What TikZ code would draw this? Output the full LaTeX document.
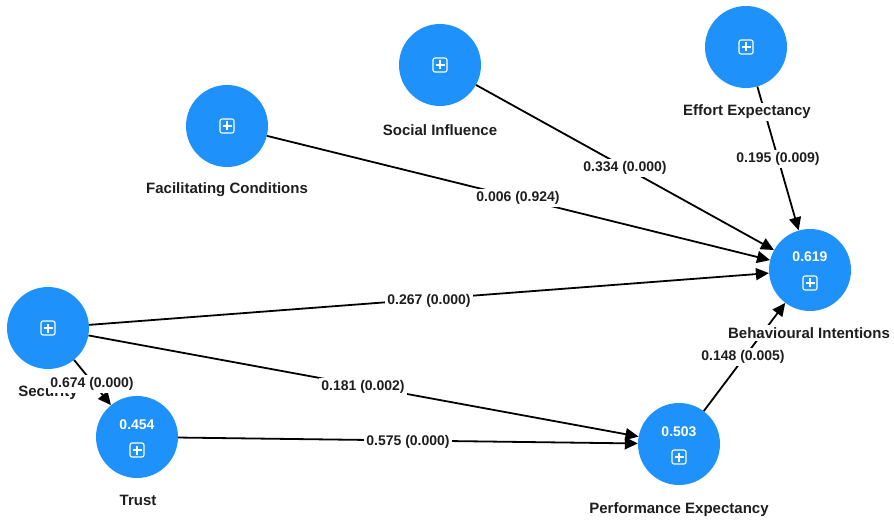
\documentclass[tikz,border=0pt]{standalone}
\usepackage{fontspec}
\setmainfont{Liberation Sans}
\usetikzlibrary{arrows.meta}
\definecolor{lvblue}{RGB}{30,146,250}
\definecolor{txt}{RGB}{30,30,30}
\tikzset{
  lv/.style={circle, fill=lvblue, minimum size=82pt, inner sep=0pt},
  lvname/.style={font=\bfseries\fontsize{15pt}{17pt}\selectfont, text=txt, fill=white, inner sep=2pt},
  lvval/.style={font=\bfseries\fontsize{14pt}{16pt}\selectfont, text=white, inner sep=0pt},
  pathlbl/.style={font=\bfseries\fontsize{14pt}{16pt}\selectfont, text=txt, fill=white, inner sep=2.5pt},
  edge/.style={draw=black, line width=1.8pt, -{Triangle[length=13pt,width=12pt]}},
  plusicon/.pic={
    \draw[white, line width=1.1pt, rounded corners=2pt] (-7,-7) rectangle (7,7);
    \draw[white, line width=1.1pt] (-4.5,0) -- (4.5,0) (0,-4.5) -- (0,4.5);
  }
}
\begin{document}
\begin{tikzpicture}[x=1pt, y=-1pt]
\useasboundingbox (0,0) rectangle (894,521);
% constructs
\node[lv] (FC) at (227,126) {};
\node[lv] (SI) at (440,65) {};
\node[lv] (EE) at (746,47) {};
\node[lv] (BI) at (810,270) {};
\node[lv] (SEC) at (48,328) {};
\node[lv] (TR) at (137,437) {};
\node[lv] (PE) at (679,444) {};
% icons
\pic at (227,126) {plusicon};
\pic at (440,65) {plusicon};
\pic at (746,47) {plusicon};
\pic at (48,328) {plusicon};
\pic at (810,283) {plusicon};
\pic at (137,450) {plusicon};
\pic at (679,457) {plusicon};
% values
\node[lvval] (BIv) at (810,257) {0.619};
\node[lvval] (TRv) at (137,425) {0.454};
\node[lvval] (PEv) at (679,432) {0.503};
% connectors
\draw[edge] (FC) -- (BI);
\draw[edge] (SI) -- (BI);
\draw[edge] (EE) -- (BI);
\draw[edge] (SEC) -- (BI);
\draw[edge] (SEC) -- (PE);
\draw[edge] (SEC) -- (TR);
\draw[edge] (TR) -- (PE);
\draw[edge] (PE) -- (BI);
% construct names
\node[lvname] (FCn) at (227,190) {Facilitating Conditions};
\node[lvname] (SIn) at (440,130) {Social Influence};
\node[lvname] (EEn) at (747,112) {Effort Expectancy};
\node[lvname] (BIn) at (809,333) {Behavioural Intentions};
\node[lvname] (SECn) at (48,393) {Security};
\node[lvname] (TRn) at (138,500) {Trust};
\node[lvname] (PEn) at (679,510) {Performance Expectancy};
% path labels
\node[pathlbl] (l1) at (518,198) {0.006 (0.924)};
\node[pathlbl] (l2) at (625,168) {0.334 (0.000)};
\node[pathlbl] (l3) at (778,159) {0.195 (0.009)};
\node[pathlbl] (l4) at (429,301) {0.267 (0.000)};
\node[pathlbl] (l5) at (363,387) {0.181 (0.002)};
\node[pathlbl] (l6) at (408,442) {0.575 (0.000)};
\node[pathlbl] (l7) at (92,384) {0.674 (0.000)};
\node[pathlbl] (l8) at (743,357) {0.148 (0.005)};
\end{tikzpicture}
\end{document}
